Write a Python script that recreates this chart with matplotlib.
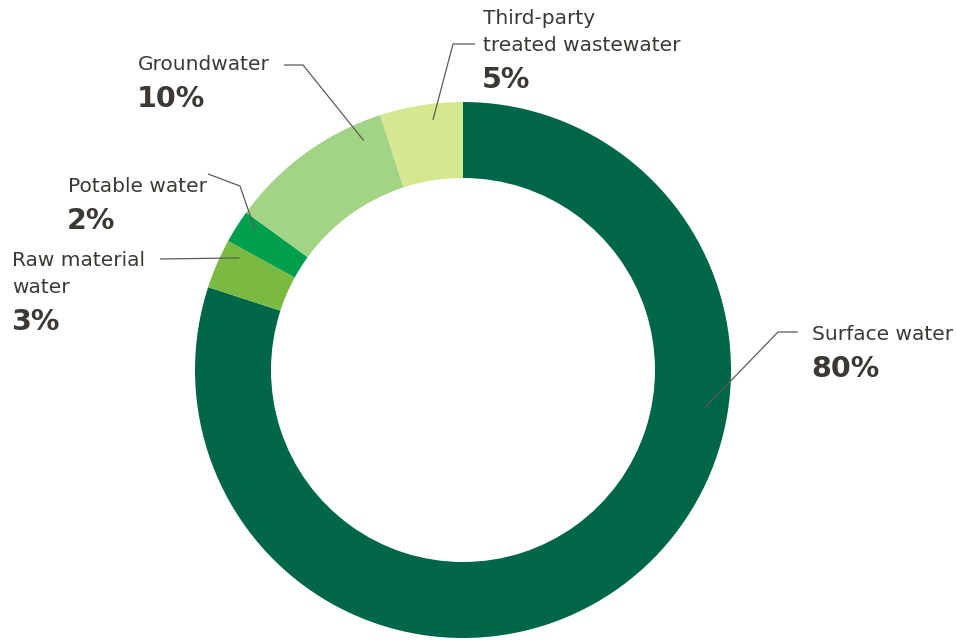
import numpy as np
import matplotlib
matplotlib.use("Agg")
import matplotlib.pyplot as plt

# Water withdrawal by source (share of total, %)
sources = ["Surface water", "Raw material\nwater", "Potable water",
           "Groundwater", "Third-party\ntreated wastewater"]
shares = [80, 3, 2, 10, 5]
share_labels = ["80%", "3%", "2%", "10%", "5%"]
colors = ["#00664a", "#7aba43", "#009f4d", "#a3d385", "#d4e98f"]

W, H = 956, 640
TEXT = "#3c3935"
LINE = "#5a5a5a"

# ring geometry (pixel units, y measured from the top)
CX, CY = 463, 370
R_OUT, R_IN = 268, 192

# label layout: text left x, first baseline y, knee points of the leader,
# and where inside its wedge the leader ends (0 = wedge start, 1 = end)
layout = {
    "Surface water": dict(x=812, y=340, knees=[(798, 332), (778, 332)], f=0.343, r=245),
    "Raw material\nwater": dict(x=12, y=266, knees=[(160, 259)], f=0.8, r=250),
    "Potable water": dict(x=68, y=192, knees=[(208, 174), (240, 186)], f=0.7, r=250),
    "Groundwater": dict(x=138, y=70, knees=[(284, 65), (303, 65)], f=0.85, r=250),
    "Third-party\ntreated wastewater": dict(x=483, y=24, knees=[(475, 44), (453, 44)], f=0.62, r=252),
}

fig = plt.figure(figsize=(W / 100, H / 100), dpi=100)
ax = fig.add_axes([0, 0, 1, 1])

ax.pie(shares, colors=colors, startangle=90, counterclock=False,
       radius=R_OUT, center=(CX, H - CY),
       wedgeprops=dict(width=R_OUT - R_IN, linewidth=0, antialiased=True))

ax.set_xlim(0, W)
ax.set_ylim(0, H)
ax.set_aspect("equal")
ax.axis("off")

total = float(sum(shares))
starts = np.concatenate([[0], np.cumsum(shares)[:-1]]) / total * 360.0
sizes = np.array(shares) / total * 360.0

LINE_GAP = 27
for name, pct, start, size in zip(sources, share_labels, starts, sizes):
    lay = layout[name]
    # leader line end point on the ring, measured clockwise from 12 o'clock
    ang = np.deg2rad(start + lay["f"] * size)
    ax_px = CX + lay["r"] * np.sin(ang)
    ay_px = CY - lay["r"] * np.cos(ang)
    pts = lay["knees"] + [(ax_px, ay_px)]
    xs = [p[0] for p in pts]
    ys = [H - p[1] for p in pts]
    ax.plot(xs, ys, color=LINE, lw=0.9, solid_capstyle="butt", zorder=5)

    lines = name.split("\n")
    for i, line in enumerate(lines):
        ax.text(lay["x"], H - (lay["y"] + i * LINE_GAP), line,
                fontsize=14.5, family="DejaVu Sans", color=TEXT,
                ha="left", va="baseline")
    ax.text(lay["x"] - 1, H - (lay["y"] + (len(lines) - 1) * LINE_GAP + 37), pct,
            fontsize=20.5, family="DejaVu Sans", fontweight="bold", color=TEXT,
            ha="left", va="baseline")

fig.savefig("out.png", dpi=100, facecolor="white")
